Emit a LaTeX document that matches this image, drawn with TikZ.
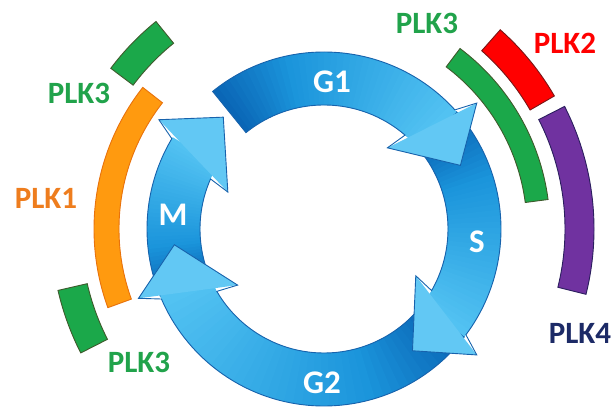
\documentclass[tikz,border=0pt]{standalone}
\usepackage{fontspec}
\setmainfont{Carlito}
\definecolor{cycD}{HTML}{0A66B6}
\definecolor{cycM}{HTML}{1B95DB}
\definecolor{cycL}{HTML}{52C2F2}
\definecolor{cycH}{HTML}{62C8F4}
\definecolor{cycO}{HTML}{1762AC}
\definecolor{plkG}{HTML}{1BA84A}
\definecolor{plkGd}{HTML}{3E5A2C}
\definecolor{plkO}{HTML}{FF9A0F}
\definecolor{plkOd}{HTML}{E8720C}
\definecolor{plkR}{HTML}{FF0000}
\definecolor{plkRd}{HTML}{7A1515}
\definecolor{plkP}{HTML}{7032A0}
\definecolor{plkPd}{HTML}{2B1F5E}
\definecolor{txtG}{HTML}{21A34B}
\definecolor{txtO}{HTML}{EE7D1E}
\definecolor{txtN}{HTML}{1C2A66}
\tikzset{
  lab/.style={font=\fontsize{31}{31}\selectfont\bfseries, inner sep=0pt},
  phase/.style={font=\fontsize{33}{33}\selectfont\bfseries, inner sep=0pt, text=white},
}
% ring radii
\def\ro{177}\def\ri{124}\def\rm{150.5}\def\rob{198}\def\rib{103}
% #1 tail angle, #2 tip angle
\newcommand{\cycarrow}[2]{%
  \pgfmathsetmacro{\hb}{#2+17.3}%
  \pgfmathsetmacro{\hn}{#2+24.2}%
  \pgfmathsetmacro{\ob}{#2+14.5}%
  \pgfmathsetmacro{\ib}{#2+27}%
  \foreach \i in {0,...,39}{%
    \pgfmathsetmacro{\aa}{#1+(\hb-#1)*\i/40}%
    \pgfmathsetmacro{\bb}{#1+(\hb-#1)*(\i+1.4)/40}%
    \ifnum\i<12
      \pgfmathtruncatemacro{\pp}{100*\i/12}%
      \colorlet{slc}{cycM!\pp!cycD}%
    \else
      \pgfmathtruncatemacro{\pp}{100*(\i-12)/27}%
      \colorlet{slc}{cycL!\pp!cycM}%
    \fi
    \fill[slc] (\aa:\ro pt) arc[start angle=\aa, end angle=\bb, radius=\ro pt]
      -- (\bb:\ri pt) arc[start angle=\bb, end angle=\aa, radius=\ri pt] -- cycle;
  }%
  \fill[cycH] (\ob:\rob pt) -- (#2:\rm pt) -- (\ib:\rib pt) -- cycle;
  \draw[cycO, line width=0.9pt, line join=miter]
    (#1:\ro pt) arc[start angle=#1, end angle=\hb, radius=\ro pt]
    -- (\ob:\rob pt) -- (#2:\rm pt) -- (\ib:\rib pt) -- (\hn:\ri pt)
    arc[start angle=\hn, end angle=#1, radius=\ri pt] -- cycle;
}
% #1 r inner, #2 r outer, #3 a1, #4 a2, #5 fill, #6 draw
\newcommand{\plkbar}[6]{%
  \filldraw[fill=#5, draw=#6, line width=0.9pt]
    (#3:#1pt) arc[start angle=#3, end angle=#4, radius=#1pt]
    -- (#4:#2pt) arc[start angle=#4, end angle=#3, radius=#2pt] -- cycle;
}
\begin{document}
\begin{tikzpicture}[x=1pt,y=1pt]
\useasboundingbox (0,0) rectangle (615,409);
\begin{scope}[shift={(324,180)}]
  % cell cycle ring
  \cycarrow{202.5}{132}
  \cycarrow{-37.5}{-174}
  \cycarrow{41.5}{-54}
  \cycarrow{129}{25}
  % PLK bars
  \plkbar{239}{267}{129}{143}{plkG}{plkGd}
  \plkbar{205}{230}{142}{200}{plkO}{plkOd}
  \plkbar{243}{273}{193}{207}{plkG}{plkGd}
  \plkbar{203}{226}{7.5}{53}{plkG}{plkGd}
  \plkbar{238}{266}{30}{48.5}{plkR}{plkRd}
  \plkbar{241}{270}{-14}{27}{plkP}{plkPd}
\end{scope}
% phase labels
\node[phase] (g1) at (332,327) {G1};
\node[phase] (s) at (477,167) {S};
\node[phase] (g2) at (322,26) {G2};
\node[phase] (m) at (173,194) {M};
% PLK labels
\node[lab, text=txtG] (plk3a) at (79,316) {PLK3};
\node[lab, text=txtO] (plk1) at (46,211) {PLK1};
\node[lab, text=txtG] (plk3b) at (139,47) {PLK3};
\node[lab, text=txtG] (plk3c) at (427,386) {PLK3};
\node[lab, text=plkR] (plk2) at (565,366) {PLK2};
\node[lab, text=txtN] (plk4) at (580,76) {PLK4};
\end{tikzpicture}
\end{document}
